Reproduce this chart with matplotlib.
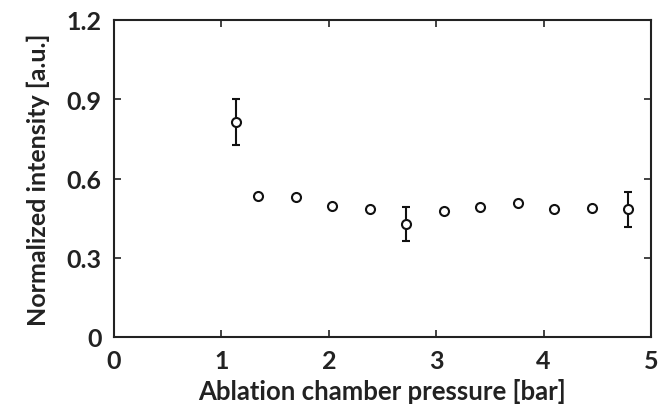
import numpy as np
import matplotlib
matplotlib.use('Agg')
import matplotlib.pyplot as plt

# ---------- data ---------- #
pressure = [1.14, 1.34, 1.69, 2.03, 2.38, 2.72, 3.07, 3.41, 3.76, 4.10, 4.45, 4.79]
intensity = [0.813, 0.534, 0.529, 0.497, 0.485, 0.428, 0.476, 0.491, 0.508, 0.485, 0.488, 0.485]
# error bars only on a few points (nan = no bar)
err_lo = [0.085, np.nan, np.nan, np.nan, np.nan, 0.063, np.nan, np.nan, np.nan, np.nan, np.nan, 0.067]
err_hi = [0.087, np.nan, np.nan, np.nan, np.nan, 0.066, np.nan, np.nan, np.nan, np.nan, np.nan, 0.065]

xticks = [0, 1, 2, 3, 4, 5]
yticks = [0, 0.3, 0.6, 0.9, 1.2]

# ---------- plot settings ---------- #
matplotlib.rc('font', family=['Lato', 'DejaVu Sans'], size=18, weight='bold')
matplotlib.rc('axes', linewidth=1.5, edgecolor='#222222', labelweight='bold')

fig = plt.figure(figsize=(6.59, 4.10), dpi=100)
ax = fig.add_axes([114 / 659, 72 / 410, 537 / 659, 317 / 410])

x = np.array(pressure)
y = np.array(intensity)
lo = np.array(err_lo)
hi = np.array(err_hi)
has_err = ~np.isnan(lo)

ax.errorbar(x[has_err], y[has_err], yerr=[lo[has_err], hi[has_err]], fmt='none',
            ecolor='#111111', elinewidth=1.5, capsize=3, capthick=1.5, zorder=2)
ax.plot(x, y, 'o', markersize=6.5, markerfacecolor='white', markeredgecolor='#111111',
        markeredgewidth=1.5, zorder=3)

ax.set_xlim(0, 5)
ax.set_ylim(0, 1.2)
ax.set_xticks(xticks)
ax.set_yticks(yticks)
ax.set_yticklabels(['0', '0.3', '0.6', '0.9', '1.2'])
ax.tick_params(direction='in', length=5, width=1.2, top=True, right=True,
               labelsize=18, colors='#222222')
ax.tick_params(axis='x', pad=9)
ax.tick_params(axis='y', pad=9)
ax.set_xlabel('Ablation chamber pressure [bar]', fontsize=18.5, labelpad=4, color='#222222')
ax.set_ylabel('Normalized intensity [a.u.]', fontsize=18, labelpad=12, color='#222222')

fig.savefig('out.png', dpi=100)
